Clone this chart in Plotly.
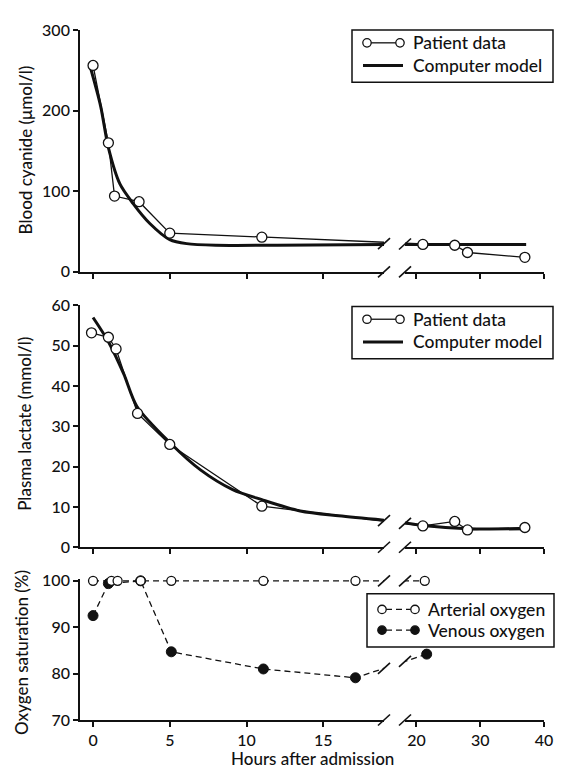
import numpy as np
import plotly.graph_objects as go
from plotly.subplots import make_subplots

# ---------------- data ----------------
# Blood cyanide (umol/l)
cn_hours = [0, 1, 1.4, 3, 5, 11, 21, 26, 28, 37]
cn_patient = [256, 160, 94, 87, 48, 43, 34, 33, 24, 18]
cn_model_hours_early = [-0.15, 0.5, 1, 1.75, 2.6, 3.7, 5, 6.1, 8, 12, 19]
cn_model_early = [252, 205, 154, 109, 85, 60, 40, 35, 33, 33, 34]
cn_model_hours_late = [18.2, 37.2]
cn_model_late = [34, 34]

# Plasma lactate (mmol/l)
lac_hours = [-0.1, 1, 1.5, 2.9, 5, 11, 21, 26, 28, 37]
lac_patient = [53.2, 52.1, 49.2, 33.2, 25.5, 10.2, 5.3, 6.4, 4.3, 4.9]
lac_model_hours_early = [0, 1, 2, 2.85, 5, 7, 9.1, 11, 13.5, 16, 19]
lac_model_early = [57, 51, 43, 35, 26, 19.2, 14.3, 11.8, 9.0, 7.8, 6.7]
lac_model_hours_late = [18.2, 21, 28, 37.2]
lac_model_late = [6.0, 5.4, 4.6, 4.6]

# Oxygen saturation (%)
art_hours = [0, 1.2, 1.6, 3.1, 5.1, 11.1, 17.1, 21.3]
art_sat = [100, 100, 100, 100, 100, 100, 100, 100]
ven_hours = [0, 1, 3.1, 5.1, 11.1, 17.1, 21.6]
ven_sat = [92.5, 99.4, 100, 84.7, 81, 79.1, 84.2]

left_ticks = [0, 5, 10, 15]
right_ticks = [20, 30, 40]
cn_ticks = [0, 100, 200, 300]
lac_ticks = [0, 10, 20, 30, 40, 50, 60]
o2_ticks = [70, 80, 90, 100]

# ---------------- layout geometry ----------------
OFF = 8                      # the page body adds an 8px margin
W, H = 566 - OFF, 771 - OFF
PL, PR, PT, PB = 80 - OFF, 22, 21 - OFF, 51
PW = W - PL - PR
PH = H - PT - PB
L_RANGE = [-0.85, 18.96]
R_RANGE = [18.2, 40.0]
BREAK_HOUR = 19.0
DL = 304 / PW            # left column domain end (fraction)
DR0 = 325 / PW           # right column domain start


def px(x):                   # reference-window pixel -> paper fraction
    return (x - OFF - PL) / PW


def py(y):
    return (H - PB - (y - OFF)) / PH


ROW_DOM = {1: [py(266), 1.0], 2: [py(545), py(300)], 3: [0.0, py(577.6)]}
Y_RANGES = {1: [0, 300], 2: [0, 60], 3: [70, 100.3]}

FONT = "Lato, 'Open Sans', sans-serif"
WEIGHT = 500
INK = "#111111"


def font(size):
    return dict(family=FONT, size=size, color=INK, weight=WEIGHT)


# map hours of the other segment into this column's axis so that lines run
# straight across the break, as in the original drawing
def to_col(h, col):
    h = np.asarray(h, dtype=float)
    out = h.copy()
    if col == 1:
        late = h >= BREAK_HOUR
        f = DR0 + (h[late] - R_RANGE[0]) / (R_RANGE[1] - R_RANGE[0]) * (1 - DR0)
        out[late] = L_RANGE[0] + f / DL * (L_RANGE[1] - L_RANGE[0])
    else:
        early = h < BREAK_HOUR
        f = (h[early] - L_RANGE[0]) / (L_RANGE[1] - L_RANGE[0]) * DL
        out[early] = R_RANGE[0] + (f - DR0) / (1 - DR0) * (R_RANGE[1] - R_RANGE[0])
    return out


def in_col(h, col):
    h = np.asarray(h, dtype=float)
    return h < BREAK_HOUR if col == 1 else h >= BREAK_HOUR


fig = make_subplots(rows=3, cols=2)


def add_series(row, hours, vals, line, marker, dash=None):
    for col in (1, 2):
        xs = to_col(hours, col)
        fig.add_trace(go.Scatter(x=xs, y=vals, mode="lines",
                                 line=dict(color=INK, width=line, dash=dash),
                                 hoverinfo="skip", showlegend=False),
                      row=row, col=col)
        m = in_col(hours, col)
        fig.add_trace(go.Scatter(x=np.asarray(hours, float)[m],
                                 y=np.asarray(vals, float)[m], mode="markers",
                                 marker=marker, cliponaxis=False,
                                 showlegend=False),
                      row=row, col=col)


def add_model(row, h_early, v_early, h_late, v_late):
    fig.add_trace(go.Scatter(x=h_early, y=v_early, mode="lines",
                             line=dict(color=INK, width=3, shape="spline", smoothing=0.8),
                             showlegend=False), row=row, col=1)
    fig.add_trace(go.Scatter(x=h_late, y=v_late, mode="lines",
                             line=dict(color=INK, width=3, shape="spline", smoothing=0.8),
                             showlegend=False), row=row, col=2)


open_m = dict(symbol="circle", size=10, color="white", line=dict(color=INK, width=1.3))
open_s = dict(symbol="circle", size=9, color="white", line=dict(color=INK, width=1.3))
fill_m = dict(symbol="circle", size=10, color=INK, line=dict(color=INK, width=1))

add_model(1, cn_model_hours_early, cn_model_early, cn_model_hours_late, cn_model_late)
add_series(1, cn_hours, cn_patient, 1.3, open_m)
add_model(2, lac_model_hours_early, lac_model_early, lac_model_hours_late, lac_model_late)
add_series(2, lac_hours, lac_patient, 1.3, open_m)
add_series(3, ven_hours, ven_sat, 1.3, fill_m, dash="6px,4px")
add_series(3, art_hours, art_sat, 1.3, open_s, dash="6px,4px")

# ---------------- axes ----------------
axis_common = dict(showgrid=False, zeroline=False, showline=True, linecolor=INK,
                   linewidth=1.7, ticks="outside", ticklen=5, tickwidth=1.5,
                   tickcolor=INK, tickfont=font(16))
y_ticks = {1: cn_ticks, 2: lac_ticks, 3: o2_ticks}
for row in (1, 2, 3):
    fig.update_xaxes(row=row, col=1, range=L_RANGE, domain=[0, DL], tickvals=left_ticks,
                     showticklabels=(row == 3), **axis_common)
    fig.update_xaxes(row=row, col=2, range=R_RANGE, domain=[DR0, 1], tickvals=right_ticks,
                     showticklabels=(row == 3), **axis_common)
    fig.update_yaxes(row=row, col=1, range=Y_RANGES[row], domain=ROW_DOM[row],
                     tickvals=y_ticks[row], **axis_common)
    fig.update_yaxes(row=row, col=2, range=Y_RANGES[row], domain=ROW_DOM[row],
                     visible=False)

# ---------------- break marks (paper coords so they are not clipped) ----------------
shapes = []


def val_to_paper(row, v):
    r0, r1 = Y_RANGES[row]
    d0, d1 = ROW_DOM[row]
    return d0 + (v - r0) / (r1 - r0) * (d1 - d0)


def slash(xp, yp):
    shapes.append(dict(type="line", xref="paper", yref="paper", xsizemode="pixel",
                       ysizemode="pixel", xanchor=xp, yanchor=yp,
                       x0=-6, x1=6, y0=-5.5, y1=5.5,
                       line=dict(color=INK, width=1.6), layer="above"))


def crossing(hours, vals, col):
    xs = to_col(hours, col)
    edge = L_RANGE[1] if col == 1 else R_RANGE[0]
    return float(np.interp(edge, xs, vals))


for row in (1, 2, 3):
    ymin = val_to_paper(row, Y_RANGES[row][0])
    slash(DL, ymin)
    slash(DR0, ymin)

# data-line breaks
for row, (hrs, vals, mhe, me, mhl, ml) in {
        1: (cn_hours, cn_patient, cn_model_hours_early, cn_model_early,
            cn_model_hours_late, cn_model_late),
        2: (lac_hours, lac_patient, lac_model_hours_early, lac_model_early,
            lac_model_hours_late, lac_model_late)}.items():
    yl_val = 0.5 * (crossing(hrs, vals, 1) + float(np.interp(L_RANGE[1], mhe, me)))
    yr_val = 0.5 * (crossing(hrs, vals, 2) + float(np.interp(R_RANGE[0], mhl, ml)))
    slash(DL, val_to_paper(row, yl_val))
    slash(DR0, val_to_paper(row, yr_val))

for hrs, vals in ((art_hours, art_sat), (ven_hours, ven_sat)):
    slash(DL, val_to_paper(3, crossing(hrs, vals, 1)))
    slash(DR0, val_to_paper(3, crossing(hrs, vals, 2)))

# ---------------- custom legends (paper coordinates) ----------------
annotations = []


def box(x0, x1, y0, y1):
    shapes.append(dict(type="rect", xref="paper", yref="paper",
                       x0=px(x0), x1=px(x1), y0=py(y1), y1=py(y0),
                       line=dict(color=INK, width=1.5), fillcolor="white", layer="above"))


def seg(x0, x1, y, width, dash=None):
    shapes.append(dict(type="line", xref="paper", yref="paper",
                       x0=px(x0), x1=px(x1), y0=py(y), y1=py(y),
                       line=dict(color=INK, width=width, dash=dash), layer="above"))


def dot(x, y, filled, r=4.2):
    shapes.append(dict(type="circle", xref="paper", yref="paper",
                       xsizemode="pixel", ysizemode="pixel", xanchor=px(x), yanchor=py(y),
                       x0=-r, x1=r, y0=-r, y1=r,
                       line=dict(color=INK, width=1.3),
                       fillcolor=INK if filled else "white", layer="above"))


def label(x, y, text):
    annotations.append(dict(xref="paper", yref="paper", x=px(x), y=py(y), text=text,
                            showarrow=False, xanchor="left", yanchor="middle",
                            font=font(17.5)))


for off in (0, 280):
    box(352, 553, 21 + off, 74 + off)
    seg(371, 396, 34 + off, 1.3)
    dot(367, 34 + off, False)
    dot(400, 34 + off, False)
    label(411, 34 + off, "Patient data")
    seg(363, 403, 57 + off, 3)
    label(411, 57 + off, "Computer model")

box(367, 554, 592, 646)
seg(386, 411, 608, 1.3, "6px,4px")
dot(382, 608, False)
dot(415, 608, False)
label(426, 608, "Arterial oxygen")
seg(386, 411, 629, 1.3, "6px,4px")
dot(382, 629, True)
dot(415, 629, True)
label(426, 629, "Venous oxygen")


# ---------------- axis titles ----------------
def ytitle(y, text, x=25):
    annotations.append(dict(xref="paper", yref="paper", x=px(x), y=py(y), text=text,
                            textangle=-90, showarrow=False, xanchor="center",
                            yanchor="middle", font=font(17)))


ytitle(143, "Blood cyanide (μmol/l)")
ytitle(420, "Plasma lactate (mmol/l)")
ytitle(652, "Oxygen saturation (%)", x=22)
annotations.append(dict(xref="paper", yref="paper", x=px(312), y=py(770.5),
                        text="Hours after admission", showarrow=False,
                        xanchor="center", yanchor="bottom", borderpad=0,
                        font=font(17)))

fig.update_layout(width=W, height=H, margin=dict(l=PL, r=PR, t=PT, b=PB),
                  paper_bgcolor="white", plot_bgcolor="white",
                  shapes=shapes, annotations=annotations, showlegend=False,
                  font=dict(family=FONT, color=INK))

fig.write_html("out.html")
